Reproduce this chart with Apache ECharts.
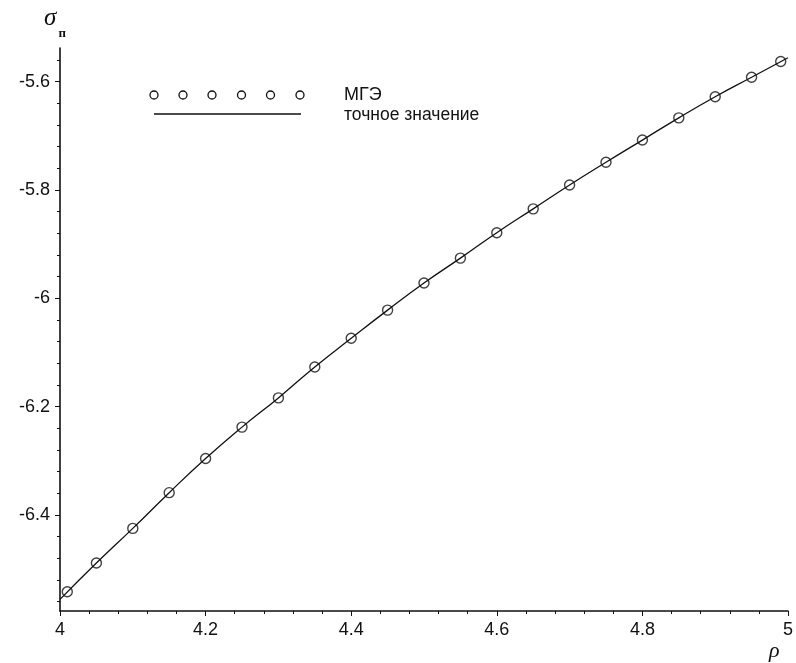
<!DOCTYPE html>
<html>
<head>
<meta charset="utf-8">
<script src="https://cdn.jsdelivr.net/npm/echarts@6/dist/echarts.min.js"></script>
<style>html,body{margin:0;padding:0;background:#fff}#c{width:796px;height:663px}</style>
</head>
<body>
<div id="c"></div>
<script>
// МГЭ points
const bemX = [4.01,4.05,4.10,4.15,4.20,4.25,4.30,4.35,4.40,4.45,4.50,4.55,4.60,4.65,4.70,4.75,4.80,4.85,4.90,4.95,4.99];
const bemY = [-6.542,-6.489,-6.425,-6.359,-6.296,-6.238,-6.184,-6.127,-6.074,-6.022,-5.972,-5.926,-5.879,-5.835,-5.791,-5.749,-5.708,-5.667,-5.628,-5.592,-5.563];
// exact solution
const exactX = [4.00,4.05,4.10,4.15,4.20,4.25,4.30,4.35,4.40,4.45,4.50,4.55,4.60,4.65,4.70,4.75,4.80,4.85,4.90,4.95,5.00];
const exactY = [-6.556,-6.489,-6.425,-6.359,-6.296,-6.238,-6.184,-6.127,-6.074,-6.022,-5.972,-5.926,-5.879,-5.835,-5.791,-5.749,-5.708,-5.667,-5.628,-5.592,-5.556];
const yMajorTicks = [-6.4,-6.2,-6.0,-5.8,-5.6];
const yMinorTicks = [-6.56,-6.52,-6.48,-6.44,-6.40,-6.36,-6.32,-6.28,-6.24,-6.20,-6.16,-6.12,-6.08,-6.04,-6.00,-5.96,-5.92,-5.88,-5.84,-5.80,-5.76,-5.72,-5.68,-5.64,-5.60,-5.56];
const legendNames = ['МГЭ','точное значение'];

const yMin = -6.5775, yMax = -5.538;
const labelFont = {fontFamily:'Liberation Sans', fontSize:18, color:'#111'};
const chart = echarts.init(document.getElementById('c'));
chart.setOption({
  animation:false,
  backgroundColor:'#fff',
  grid:{left:60,right:7,top:48,bottom:52},
  xAxis:{
    type:'value', min:4, max:5, interval:0.2,
    name:'ρ', nameLocation:'end', nameGap:-19,
    nameTextStyle:{fontFamily:'Liberation Serif', fontStyle:'italic', fontSize:22, color:'#111', verticalAlign:'top', padding:[29,0,0,0]},
    axisLine:{show:true, onZero:false, lineStyle:{color:'#111', width:1.6}},
    axisTick:{show:true, length:5, lineStyle:{color:'#111'}},
    minorTick:{show:true, splitNumber:5, length:3, lineStyle:{color:'#111'}},
    splitLine:{show:false},
    axisLabel:Object.assign({margin:10, formatter:v=>String(+v.toFixed(2))}, labelFont)
  },
  yAxis:[{
    type:'value', min:yMin, max:yMax,
    name:'{s|σ}{p|п}', nameLocation:'end', nameGap:15,
    nameTextStyle:{align:'center', padding:[0,10,0,0],
      rich:{s:{fontFamily:'Liberation Serif', fontStyle:'italic', fontSize:25, color:'#111', lineHeight:30},
            p:{fontFamily:'Liberation Serif', fontSize:13, fontWeight:'bold', color:'#111', lineHeight:30, verticalAlign:'bottom', padding:[0,0,-7,2]}}},
    axisLine:{show:true, onZero:false, lineStyle:{color:'#111', width:1.6}},
    axisTick:{show:true, length:5, customValues:yMajorTicks, lineStyle:{color:'#111'}},
    splitLine:{show:false},
    axisLabel:Object.assign({margin:10, customValues:yMajorTicks, formatter:v=>String(+(+v).toFixed(2))}, labelFont)
  },{
    type:'value', min:yMin, max:yMax, position:'left',
    axisLine:{show:false},
    axisTick:{show:true, length:3, customValues:yMinorTicks, lineStyle:{color:'#111'}},
    axisLabel:{show:false},
    splitLine:{show:false}
  }],
  series:[{
    name:legendNames[0], type:'scatter', z:2,
    data:bemX.map((x,i)=>[x,bemY[i]]),
    symbol:'circle', symbolSize:10,
    itemStyle:{color:'rgba(0,0,0,0)', borderColor:'#111', borderWidth:1.4}
  },{
    name:legendNames[1], type:'line', z:3, smooth:true, showSymbol:false,
    data:exactX.map((x,i)=>[x,exactY[i]]),
    lineStyle:{color:'#111', width:1.3}
  }],
  graphic:[
    ...[154,183,212,241.5,270.5,300].map(x=>({type:'circle', shape:{cx:x, cy:95, r:4}, style:{fill:'none', stroke:'#111', lineWidth:1.3}})),
    {type:'line', shape:{x1:154, y1:114, x2:301, y2:114}, style:{stroke:'#111', lineWidth:1.5}},
    {type:'text', left:344, top:86, style:{text:legendNames[0], fontFamily:'Liberation Sans', fontSize:18, fill:'#111'}},
    {type:'text', left:344, top:106, style:{text:legendNames[1], fontFamily:'Liberation Sans', fontSize:17.5, fill:'#111'}}
  ]
});
</script>
</body>
</html>
